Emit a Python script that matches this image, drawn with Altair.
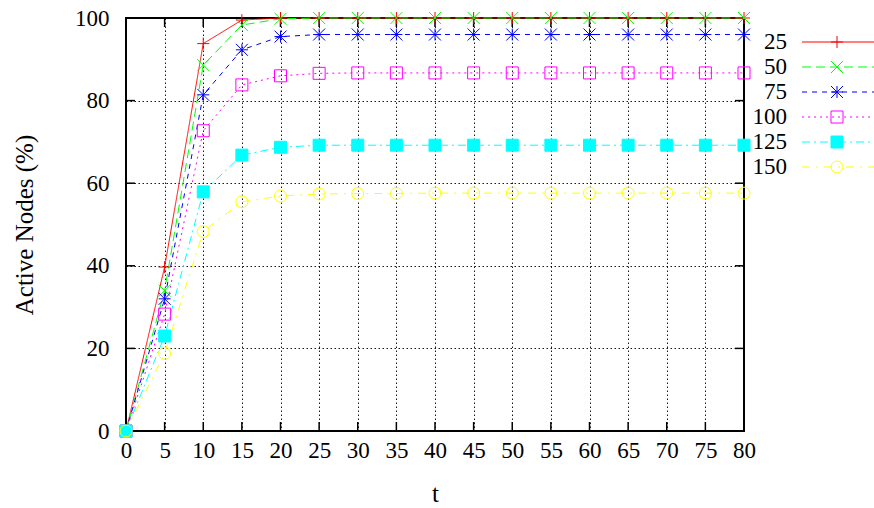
import altair as alt
import pandas as pd

# ---------------- data ----------------
t_values = [0, 5, 10, 15, 20, 25, 30, 35, 40, 45, 50, 55, 60, 65, 70, 75, 80]
series_names = ["25", "50", "75", "100", "125", "150"]
v25 = [0, 39.7, 93.8, 99.5, 100, 100, 100, 100, 100, 100, 100, 100, 100, 100, 100, 100, 100]
v50 = [0, 34.0, 88.6, 98.3, 99.8, 100, 100, 100, 100, 100, 100, 100, 100, 100, 100, 100, 100]
v75 = [0, 32.0, 81.4, 92.3, 95.5, 96.0, 96.0, 96.0, 96.0, 96.0, 96.0, 96.0, 96.0, 96.0, 96.0, 96.0, 96.0]
v100 = [0, 28.3, 72.7, 83.8, 86.0, 86.6, 86.7, 86.7, 86.7, 86.7, 86.7, 86.7, 86.7, 86.7, 86.7, 86.7, 86.7]
v125 = [0, 23.0, 57.9, 66.8, 68.7, 69.2, 69.2, 69.2, 69.2, 69.2, 69.2, 69.2, 69.2, 69.2, 69.2, 69.2, 69.2]
v150 = [0, 18.8, 48.3, 55.5, 56.9, 57.4, 57.5, 57.5, 57.6, 57.6, 57.6, 57.6, 57.6, 57.6, 57.6, 57.6, 57.6]
x_ticks = [0, 5, 10, 15, 20, 25, 30, 35, 40, 45, 50, 55, 60, 65, 70, 75, 80]
y_ticks = [0, 20, 40, 60, 80, 100]

# ---------------- styles ----------------
colors = ["#ff0000", "#00ff00", "#0000ff", "#ff00ff", "#00ffff", "#ffff00"]
dashes = [[1, 0], [9, 5], [5, 5], [2, 4], [8, 4, 2, 4], [8, 6, 2, 6]]
PLUS = "M-1,0L1,0M0,-1L0,1"
CROSS = "M-1,-1L1,1M-1,1L1,-1"
STAR = "M-1,0L1,0M0,-1L0,1M-1,-1L1,1M-1,1L1,-1"
shapes = [PLUS, CROSS, STAR, "square", "square", "circle"]
fills = ["transparent", "transparent", "transparent", "transparent", "#00ffff", "transparent"]
FONT = "Liberation Serif"
FS = 23
TFS = 25
W, H = 618, 413

rows = []
for name, vals in zip(series_names, [v25, v50, v75, v100, v125, v150]):
    for t, v in zip(t_values, vals):
        rows.append({"series": name, "t": t, "value": v})
df = pd.DataFrame(rows)

xscale = alt.Scale(domain=[0, 80], nice=False, zero=False)
yscale = alt.Scale(domain=[0, 100], nice=False)
color_s = alt.Scale(domain=series_names, range=colors)
dash_s = alt.Scale(domain=series_names, range=dashes)
shape_s = alt.Scale(domain=series_names, range=shapes)
fill_s = alt.Scale(domain=series_names, range=fills)

x_axis = alt.Axis(values=x_ticks, grid=True, gridDash=[1.5, 2.5], gridColor="black",
                  gridWidth=1, gridOpacity=0.9, domain=False, ticks=False,
                  labelFont=FONT, labelFontSize=FS, labelColor="black", labelPadding=8,
                  labelFlush=False, labelOverlap=False,
                  title="t", titleFont=FONT, titleFontSize=TFS,
                  titleFontWeight="normal", titleColor="black", titleX=W / 2, titleY=62,
                  titleBaseline="middle", titleAlign="center")
y_axis = alt.Axis(values=y_ticks, grid=True, gridDash=[1.5, 2.5], gridColor="black",
                  gridWidth=1, gridOpacity=0.9, domain=False, ticks=False,
                  labelFont=FONT, labelFontSize=FS, labelColor="black", labelPadding=17,
                  labelFlush=False, labelOverlap=False,
                  title="Active Nodes (%)", titleFont=FONT,
                  titleFontSize=TFS, titleFontWeight="normal", titleColor="black",
                  titleX=-102, titleY=H / 2, titleAngle=-90, titleBaseline="middle",
                  titleAlign="center")

base = alt.Chart(df)
lines = base.mark_line(strokeWidth=1).encode(
    x=alt.X("t:Q", scale=xscale, axis=x_axis),
    y=alt.Y("value:Q", scale=yscale, axis=y_axis),
    color=alt.Color("series:N", scale=color_s, legend=None),
    strokeDash=alt.StrokeDash("series:N", scale=dash_s, legend=None),
    detail="series:N",
)
points = base.mark_point(filled=False, strokeWidth=1, size=144, opacity=1).encode(
    x=alt.X("t:Q", scale=xscale, axis=x_axis),
    y=alt.Y("value:Q", scale=yscale, axis=y_axis),
    stroke=alt.Stroke("series:N", scale=color_s, legend=None),
    fill=alt.Fill("series:N", scale=fill_s, legend=None),
    shape=alt.Shape("series:N", scale=shape_s, legend=None),
)

xt = alt.Chart(pd.DataFrame({"v": x_ticks}))
yt = alt.Chart(pd.DataFrame({"v": y_ticks}))
tick_style = dict(color="black", strokeWidth=1.5)
left_t = yt.mark_rule(**tick_style).encode(
    y=alt.Y("v:Q", scale=yscale, axis=y_axis), x=alt.value(0), x2=alt.value(9))
right_t = yt.mark_rule(**tick_style).encode(
    y=alt.Y("v:Q", scale=yscale, axis=y_axis), x=alt.value(W - 9), x2=alt.value(W))
bot_t = xt.mark_rule(**tick_style).encode(
    x=alt.X("v:Q", scale=xscale, axis=x_axis), y=alt.value(H), y2=alt.value(H - 9))
top_t = xt.mark_rule(**tick_style).encode(
    x=alt.X("v:Q", scale=xscale, axis=x_axis), y=alt.value(0), y2=alt.value(9))

main = alt.layer(left_t, right_t, bot_t, top_t, lines, points)

# ---------------- key (outside right) ----------------
leg_df = pd.DataFrame({"series": series_names, "row": list(range(len(series_names)))})
row_scale = alt.Scale(domain=[-0.96, 15.56], nice=False, zero=False, reverse=True)
lb = alt.Chart(leg_df)
leg_text = lb.mark_text(align="right", baseline="middle", font=FONT, fontSize=FS, color="black").encode(
    x=alt.value(661), y=alt.Y("row:Q", scale=row_scale, axis=None), text="series:N")
leg_line = lb.mark_rule(strokeWidth=1).encode(
    x=alt.value(676), x2=alt.value(748), y=alt.Y("row:Q", scale=row_scale, axis=None),
    color=alt.Color("series:N", scale=color_s, legend=None),
    strokeDash=alt.StrokeDash("series:N", scale=dash_s, legend=None))
leg_pt = lb.mark_point(filled=False, strokeWidth=1, size=144, opacity=1).encode(
    x=alt.value(711), y=alt.Y("row:Q", scale=row_scale, axis=None),
    stroke=alt.Stroke("series:N", scale=color_s, legend=None),
    fill=alt.Fill("series:N", scale=fill_s, legend=None),
    shape=alt.Shape("series:N", scale=shape_s, legend=None))
legend = alt.layer(leg_line, leg_pt, leg_text)

chart = alt.layer(main, legend).resolve_scale(y="independent").properties(
    width=W, height=H,
    autosize=alt.AutoSizeParams(type="none"),
    padding={"left": 126, "top": 18, "right": 130, "bottom": 77},
    background="white",
).configure_view(stroke="black", strokeWidth=2)

chart.save("out.html", embed_options={"renderer": "svg", "actions": False})
